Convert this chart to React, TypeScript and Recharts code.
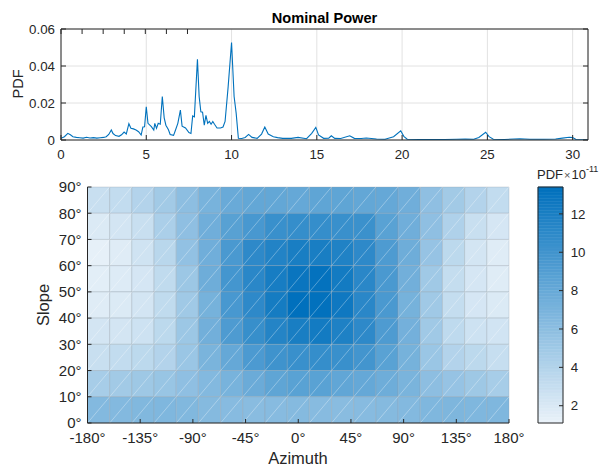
import React from 'react';
import {
  LineChart,
  Line,
  XAxis,
  YAxis,
  CartesianGrid,
  ScatterChart,
  ReferenceArea,
  ReferenceLine,
} from 'recharts';

const FONT = '"Liberation Sans", Arial, Helvetica, sans-serif';
const AXIS = '#262626';

// ---- Top chart: PDF of nominal power ----
const powerX = [
  0.0, 0.2, 0.4, 0.55, 0.7, 0.9, 1.1, 1.3, 1.5, 1.7, 1.9, 2.1, 2.3, 2.5, 2.65, 2.8, 2.95, 3.05, 3.2, 3.4,
  3.55, 3.7, 3.83, 3.98, 4.1, 4.25, 4.4, 4.55, 4.7, 4.8, 4.9, 5.0, 5.1, 5.3, 5.44, 5.5, 5.6, 5.7, 5.82, 5.94,
  6.05, 6.15, 6.3, 6.4, 6.6, 6.7, 6.85, 7.0, 7.1, 7.3, 7.5, 7.62, 7.72, 7.82, 8.0, 8.1, 8.2, 8.3, 8.4, 8.5,
  8.6, 8.7, 8.8, 8.9, 9.0, 9.15, 9.35, 9.5, 9.62, 9.8, 10.0, 10.15, 10.27, 10.4, 10.6, 10.8, 11.0, 11.2, 11.5, 11.76,
  11.95, 12.15, 12.45, 12.7, 13.0, 13.5, 13.9, 14.4, 14.7, 14.94, 15.1, 15.4, 15.7, 15.85, 16.05, 16.4, 16.93, 17.2, 17.6, 17.9,
  18.5, 19.0, 19.5, 19.92, 20.1, 20.3, 21.0, 21.8, 22.5, 23.2, 23.7, 24.2, 24.5, 24.9, 25.1, 25.35, 26.0, 26.9, 27.5, 28.3,
  29.0, 29.4, 29.8, 30.0, 30.2, 30.9,
];
const pdfValues = [
  0.0009, 0.0018, 0.0036, 0.0028, 0.0018, 0.0014, 0.0012, 0.001, 0.0015, 0.0011, 0.0013, 0.001, 0.0012, 0.0014, 0.0018, 0.003, 0.0054, 0.0035, 0.0024, 0.002,
  0.0028, 0.0043, 0.0033, 0.0088, 0.0063, 0.006, 0.0054, 0.0045, 0.0027, 0.007, 0.0072, 0.018, 0.009, 0.0072, 0.0054, 0.009, 0.0063, 0.009, 0.0085, 0.0235,
  0.012, 0.008, 0.0055, 0.003, 0.0025, 0.005, 0.009, 0.0162, 0.0075, 0.0065, 0.004, 0.0035, 0.013, 0.0125, 0.0437, 0.0235, 0.0152, 0.015, 0.008, 0.0133,
  0.009, 0.01, 0.0085, 0.01, 0.0085, 0.0065, 0.0065, 0.007, 0.01, 0.0287, 0.0527, 0.0235, 0.0145, 0.0009, 0.0008, 0.0014, 0.003, 0.0014, 0.0009, 0.0032,
  0.007, 0.0032, 0.0018, 0.0013, 0.0009, 0.0009, 0.0014, 0.0007, 0.0036, 0.0068, 0.0027, 0.0009, 0.001, 0.0023, 0.0009, 0.0008, 0.0023, 0.0009, 0.0008, 0.0011,
  0.0005, 0.0004, 0.0018, 0.005, 0.002, 0.0004, 0.0003, 0.0003, 0.0003, 0.0004, 0.0005, 0.0004, 0.0014, 0.0042, 0.0018, 0.0004, 0.0003, 0.0007, 0.0004, 0.0004,
  0.0005, 0.001, 0.0015, 0.0013, 0.0003, 0.0001,
];
const powerTicks = [0, 5, 10, 15, 20, 25, 30];
const pdfTicks = [0, 0.02, 0.04, 0.06];

// ---- Bottom chart: PDF over azimuth / slope ----
const azimuthTicks = [-180, -135, -90, -45, 0, 45, 90, 135, 180];
const slopeTicks = [0, 10, 20, 30, 40, 50, 60, 70, 80, 90];
const slopeBinStarts = [80, 70, 60, 50, 40, 30, 20, 10, 0];
// PDF values (x 1e-11), one row per slope bin (top to bottom), 19 azimuth bins (-180 -> 180)
const pdfRow80 = [2.9, 3.2, 4.0, 4.9, 6.0, 7.1, 7.9, 8.2, 8.2, 8.1, 8.4, 8.4, 8.2, 8.1, 7.5, 5.9, 4.9, 4.0, 3.2];
const pdfRow70 = [1.9, 2.3, 2.9, 4.4, 5.9, 7.5, 8.8, 9.6, 10.4, 10.6, 10.6, 10.4, 10.3, 8.7, 7.5, 5.9, 4.2, 2.9, 2.2];
const pdfRow60 = [1.3, 1.7, 2.5, 3.7, 5.7, 7.5, 9.5, 11.0, 11.6, 12.1, 12.1, 11.7, 11.0, 9.3, 7.6, 5.5, 3.5, 2.3, 1.7];
const pdfRow50 = [1.5, 1.8, 2.2, 3.3, 5.2, 7.6, 9.8, 11.2, 12.2, 12.9, 13.2, 12.4, 11.2, 9.5, 7.4, 5.0, 3.1, 2.2, 1.7];
const pdfRow40 = [1.7, 1.9, 2.3, 3.3, 5.0, 7.2, 9.6, 11.0, 12.3, 13.4, 13.3, 12.6, 11.2, 9.5, 7.2, 5.0, 3.1, 2.2, 1.9];
const pdfRow30 = [2.3, 2.3, 2.6, 3.5, 5.2, 7.4, 9.3, 10.5, 11.5, 12.1, 12.4, 11.8, 11.0, 9.3, 7.3, 5.0, 3.4, 2.6, 2.4];
const pdfRow20 = [2.9, 3.2, 3.5, 4.0, 5.3, 7.0, 8.1, 9.4, 10.1, 10.4, 10.6, 10.4, 9.9, 8.7, 7.2, 5.3, 4.0, 3.5, 3.0];
const pdfRow10 = [4.6, 4.9, 5.1, 5.4, 5.9, 6.5, 7.1, 7.8, 8.4, 8.7, 8.7, 8.3, 8.1, 7.6, 7.0, 6.0, 5.5, 5.1, 4.6];
const pdfRow0 = [6.5, 6.5, 6.6, 6.7, 6.6, 6.4, 6.3, 6.2, 6.3, 6.4, 6.3, 6.2, 6.3, 6.4, 6.5, 6.7, 6.8, 6.7, 6.7];
const pdfGrid = [pdfRow80, pdfRow70, pdfRow60, pdfRow50, pdfRow40, pdfRow30, pdfRow20, pdfRow10, pdfRow0];
const colorTicks = [2, 4, 6, 8, 10, 12];
const C_MIN = 1.1;
const C_MAX = 13.4;

const N_AZ = 19;
const azEdges = Array.from({ length: N_AZ + 1 }, (_, i) => -180 + (360 * i) / N_AZ);

const LOW = [234, 242, 249];
const HIGH = [0, 112, 189];
function colorFor(v: number) {
  const t = Math.max(0, Math.min(1, (v - C_MIN) / (C_MAX - C_MIN)));
  const c = LOW.map((l, i) => Math.round(l + (HIGH[i] - l) * t));
  return `rgb(${c[0]},${c[1]},${c[2]})`;
}

const lineData = powerX.map((x, i) => ({ x, y: pdfValues[i] }));

type Cell = { x1: number; x2: number; y1: number; y2: number; v: number };
const cells: Cell[] = [];
slopeBinStarts.forEach((s, r) => {
  pdfGrid[r].forEach((v, c) => {
    cells.push({ x1: azEdges[c], x2: azEdges[c + 1], y1: s, y2: s + 10, v });
  });
});

// colour bar drawn as thin stripes of the colour map
const N_STRIPES = 80;
const stripes = Array.from({ length: N_STRIPES }, (_, i) => {
  const a = C_MIN + ((C_MAX - C_MIN) * i) / N_STRIPES;
  const b = C_MIN + ((C_MAX - C_MIN) * (i + 1)) / N_STRIPES;
  return { a, b, v: (a + b) / 2 };
});

const deg = (v: number) => `${v}°`;

export default function App() {
  return (
    <div
      style={{
        position: 'absolute',
        left: 0,
        top: 0,
        width: 607,
        height: 468,
        background: '#fff',
        fontFamily: FONT,
        overflow: 'hidden',
        color: AXIS,
      }}
    >
      {/* Top line chart */}
      <div style={{ position: 'absolute', left: 0, top: 0 }}>
        <LineChart width={607} height={165} data={lineData} margin={{ top: 28, right: 18, bottom: 5, left: 21 }}>
          <CartesianGrid stroke="#e2e2e2" strokeWidth={1} />
          <XAxis
            dataKey="x"
            type="number"
            domain={[0, 30.9]}
            ticks={powerTicks}
            interval={0}
            allowDataOverflow
            height={20}
            tickSize={-5}
            tickMargin={14.7}
            axisLine={{ stroke: AXIS }}
            tickLine={{ stroke: AXIS }}
            tick={{ fontSize: 13.3, fill: AXIS }}
          />
          <XAxis
            xAxisId="top"
            orientation="top"
            type="number"
            domain={[0, 30.9]}
            ticks={powerTicks}
            interval={0}
            allowDataOverflow
            height={1}
            tickSize={-5}
            tickFormatter={() => ''}
            axisLine={{ stroke: AXIS }}
            tickLine={{ stroke: AXIS }}
          />
          <YAxis
            type="number"
            domain={[0, 0.06]}
            ticks={pdfTicks}
            interval={0}
            allowDataOverflow
            width={40}
            tickSize={-5}
            tickMargin={11}
            axisLine={{ stroke: AXIS }}
            tickLine={{ stroke: AXIS }}
            tick={{ fontSize: 13.3, fill: AXIS }}
          />
          <YAxis
            yAxisId="right"
            orientation="right"
            type="number"
            domain={[0, 0.06]}
            ticks={pdfTicks}
            interval={0}
            allowDataOverflow
            width={1}
            tickSize={-5}
            tickFormatter={() => ''}
            axisLine={{ stroke: AXIS }}
            tickLine={{ stroke: AXIS }}
          />
          <Line
            type="linear"
            dataKey="y"
            stroke="#0072BD"
            strokeWidth={1.1}
            dot={false}
            isAnimationActive={false}
          />
        </LineChart>
      </div>

      {/* Heatmap */}
      <div style={{ position: 'absolute', left: 0, top: 165 }}>
        <ScatterChart width={607} height={303} margin={{ top: 22, right: 98, bottom: 15, left: 37.5 }}>
          {cells.map((c, i) => (
            <ReferenceArea
              key={`a${i}`}
              x1={c.x1}
              x2={c.x2}
              y1={c.y1}
              y2={c.y2}
              fill={colorFor(c.v)}
              fillOpacity={1}
              stroke="#8e9aa6"
              strokeOpacity={0.3}
              strokeWidth={1}
              ifOverflow="visible"
            />
          ))}
          {cells.map((c, i) => (
            <ReferenceLine
              key={`l${i}`}
              segment={[
                { x: c.x1, y: c.y1 },
                { x: c.x2, y: c.y2 },
              ]}
              stroke="#ffffff"
              strokeOpacity={0.45}
              strokeWidth={0.7}
              ifOverflow="visible"
            />
          ))}
          <XAxis
            dataKey="az"
            type="number"
            domain={[-180, 180]}
            ticks={azimuthTicks}
            interval={0}
            allowDataOverflow
            height={30}
            tickSize={-4}
            tickMargin={13.6}
            tickFormatter={deg}
            axisLine={{ stroke: AXIS }}
            tickLine={{ stroke: AXIS }}
            tick={{ fontSize: 15, fill: AXIS }}
          />
          <YAxis
            dataKey="slope"
            type="number"
            domain={[0, 90]}
            ticks={slopeTicks}
            interval={0}
            allowDataOverflow
            width={50}
            tickSize={-4}
            tickMargin={10}
            tickFormatter={deg}
            axisLine={{ stroke: AXIS }}
            tickLine={{ stroke: AXIS }}
            tick={{ fontSize: 15, fill: AXIS }}
          />
        </ScatterChart>
      </div>

      {/* Colorbar */}
      <div style={{ position: 'absolute', left: 520, top: 165 }}>
        <ScatterChart width={87} height={303} margin={{ top: 22, right: 14, bottom: 44, left: 18 }}>
          <XAxis
            type="number"
            dataKey="cx"
            domain={[0, 1]}
            allowDataOverflow
            height={1}
            tick={false}
            tickLine={false}
            axisLine={false}
          />
          <YAxis
            dataKey="cv"
            orientation="right"
            type="number"
            domain={[C_MIN, C_MAX]}
            ticks={colorTicks}
            interval={0}
            allowDataOverflow
            width={30}
            tickSize={-4}
            tickMargin={11.7}
            axisLine={false}
            tickLine={{ stroke: AXIS }}
            tick={{ fontSize: 13.3, fill: AXIS }}
          />
          {stripes.map((s, i) => (
            <ReferenceArea
              key={`s${i}`}
              x1={0}
              x2={1}
              y1={s.a}
              y2={s.b}
              fill={colorFor(s.v)}
              fillOpacity={1}
              stroke={colorFor(s.v)}
              strokeWidth={0.5}
              ifOverflow="visible"
            />
          ))}
          <ReferenceArea
            x1={0}
            x2={1}
            y1={C_MIN}
            y2={C_MAX}
            fill="none"
            fillOpacity={0}
            stroke={AXIS}
            strokeWidth={1}
            ifOverflow="visible"
          />
        </ScatterChart>
      </div>

      {/* Text labels */}
      <div
        style={{
          position: 'absolute',
          left: 324.5,
          top: 18,
          transform: 'translate(-50%,-50%)',
          fontSize: 14.6,
          fontWeight: 'bold',
          whiteSpace: 'nowrap',
          lineHeight: 1,
          color: '#000',
        }}
      >
        Nominal Power
      </div>
      <div
        style={{
          position: 'absolute',
          left: 18,
          top: 84,
          transform: 'translate(-50%,-50%) rotate(-90deg)',
          fontSize: 14.6,
          whiteSpace: 'nowrap',
          lineHeight: 1,
        }}
      >
        PDF
      </div>
      <div
        style={{
          position: 'absolute',
          left: 43,
          top: 305,
          transform: 'translate(-50%,-50%) rotate(-90deg)',
          fontSize: 16.5,
          whiteSpace: 'nowrap',
          lineHeight: 1,
        }}
      >
        Slope
      </div>
      <div
        style={{
          position: 'absolute',
          left: 298,
          top: 458,
          transform: 'translate(-50%,-50%)',
          fontSize: 16.5,
          whiteSpace: 'nowrap',
          lineHeight: 1.1,
        }}
      >
        Azimuth
      </div>
      <div
        style={{
          position: 'absolute',
          left: 537,
          top: 168,
          fontSize: 13,
          whiteSpace: 'nowrap',
          lineHeight: 1,
        }}
      >
        PDF<span style={{ fontSize: 11, margin: '0 1px', color: '#555' }}>×</span>10
        <sup style={{ fontSize: 9, verticalAlign: 'top', position: 'relative', top: -3 }}>-11</sup>
      </div>
    </div>
  );
}
